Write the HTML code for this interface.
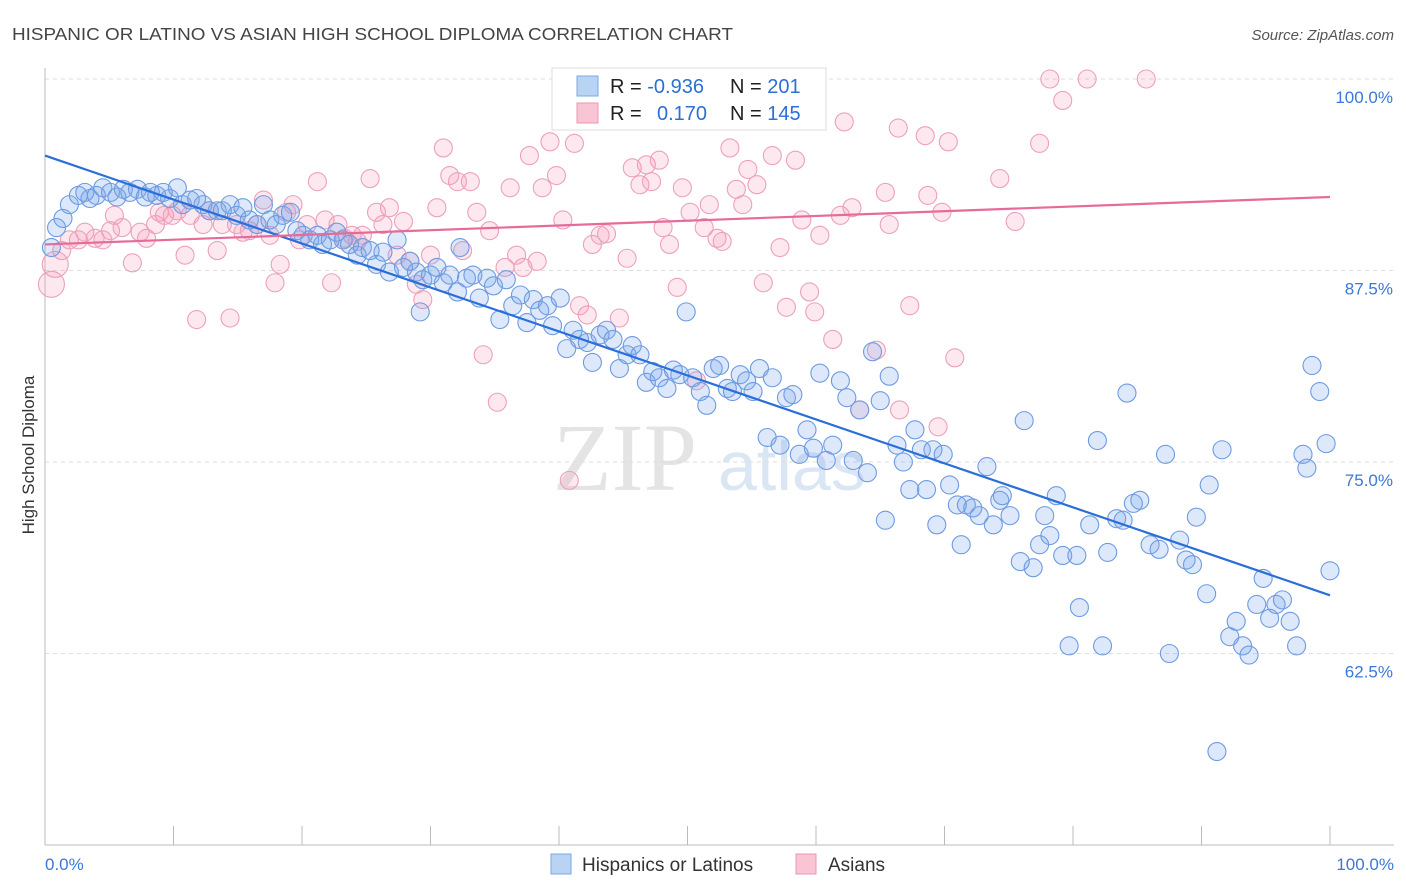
<!DOCTYPE html>
<html><head><meta charset="utf-8"><style>
body{margin:0;background:#fff;font-family:"Liberation Sans",sans-serif;}
svg{display:block}
</style></head><body>
<svg id="chart" width="1406" height="892" xmlns="http://www.w3.org/2000/svg">
<text x="12" y="40" font-size="17.5" fill="#444" textLength="721" lengthAdjust="spacingAndGlyphs">HISPANIC OR LATINO VS ASIAN HIGH SCHOOL DIPLOMA CORRELATION CHART</text>
<text x="1394" y="40" font-size="15" fill="#555" font-style="italic" text-anchor="end">Source: ZipAtlas.com</text>
<g>
<text x="553" y="490" font-size="96" font-family="Liberation Serif" fill="#e4e4e4">ZIP</text>
<text x="718" y="490" font-size="70" fill="#dbe6f5">atlas</text>
</g>
<g id="grid"></g><g id="axes"></g><g id="pink"></g><g id="blue"></g><g id="trend"></g>
<text transform="translate(34,455) rotate(-90)" font-size="17" fill="#333" text-anchor="middle">High School Diploma</text>
<g>
<rect x="552" y="68" width="274" height="62" fill="#fff" stroke="#ddd"/>
<rect x="577" y="76" width="21" height="20" fill="#b9d3f5" stroke="#7aa7e6"/>
<text x="610" y="93" font-size="20" fill="#222">R = <tspan fill="#2d6fd3">-0.936</tspan></text>
<text x="730" y="93" font-size="20" fill="#222">N = <tspan fill="#2d6fd3">201</tspan></text>
<rect x="577" y="103" width="21" height="20" fill="#f9c5d5" stroke="#ec97b3"/>
<text x="610" y="120" font-size="20" fill="#222">R = <tspan x="657" fill="#2d6fd3">0.170</tspan></text>
<text x="730" y="120" font-size="20" fill="#222">N = <tspan fill="#2d6fd3">145</tspan></text>
</g>
<g>
<rect x="551" y="854" width="20" height="20" fill="#b9d3f5" stroke="#7aa7e6"/>
<text x="582" y="871" font-size="19" fill="#333">Hispanics or Latinos</text>
<rect x="796" y="854" width="20" height="20" fill="#f9c5d5" stroke="#ec97b3"/>
<text x="828" y="871" font-size="19" fill="#333">Asians</text>
</g>
</svg>
<script>
const yTicks=[100,87.5,75,62.5];
const yTickLabels=["100.0%","87.5%","75.0%","62.5%"];
const xTickLabels=["0.0%","100.0%"];
const blueX=[.5,.9,1.4,1.9,2.6,3.1,3.5,4.0,4.5,5.1,5.6,6.1,6.6,7.2,7.8,8.2,8.7,9.2,9.7,10.3,10.7,11.3,11.8,12.3,12.8,13.4,13.8,14.4,14.9,15.4,15.9,16.5,17.0,17.5,18.0,18.5,19.1,19.6,20.1,20.6,21.2,21.6,22.2,22.7,23.2,23.7,24.3,24.7,25.3,25.8,26.3,26.8,27.4,27.9,28.4,28.9,29.2,29.4,30.0,30.5,31.0,31.5,32.1,32.3,32.8,33.3,33.8,34.4,34.9,35.4,35.9,36.4,37.0,37.5,38.0,38.5,39.1,39.5,40.1,40.6,41.1,41.6,42.2,42.6,43.2,43.7,44.2,44.7,45.3,45.7,46.3,46.8,47.3,47.8,48.4,48.9,49.4,49.9,50.4,51.0,51.5,52.0,52.5,53.1,53.5,54.1,54.6,55.1,55.6,56.2,56.6,57.2,57.7,58.2,58.7,59.3,59.8,60.3,60.8,61.3,61.9,62.4,62.9,63.4,64.0,64.4,65.0,65.4,65.7,66.3,66.8,67.3,67.7,68.2,68.6,69.1,69.4,69.9,70.4,71.0,71.3,71.7,72.2,72.7,73.3,73.8,74.3,74.5,75.1,75.9,76.2,76.9,77.4,77.8,78.2,78.7,79.2,79.7,80.3,80.5,81.3,81.9,82.3,82.7,83.4,83.9,84.2,84.7,85.2,86.0,86.7,87.2,87.5,88.3,88.8,89.3,89.6,90.4,90.6,91.2,91.6,92.2,92.7,93.2,93.7,94.3,94.8,95.3,95.8,96.3,96.9,97.4,97.9,98.2,98.6,99.2,99.7,100];
const blueY=[89.0,90.3,90.9,91.8,92.4,92.6,92.2,92.4,92.9,92.6,92.3,92.8,92.6,92.8,92.3,92.6,92.4,92.6,92.2,92.9,91.8,92.1,92.2,91.8,91.4,91.4,91.4,91.8,91.1,91.6,90.8,90.5,91.8,90.8,90.5,91.1,91.3,90.1,89.8,89.5,89.8,89.2,89.5,90.0,89.5,89.2,88.5,89.0,88.8,87.9,88.7,87.4,89.5,87.7,88.1,87.4,84.8,86.9,87.2,87.7,86.7,87.2,86.1,89.0,87.0,87.2,85.7,87.0,86.5,84.3,86.9,85.2,85.9,84.1,85.6,84.9,85.2,83.9,85.7,82.4,83.6,83.0,82.8,81.5,83.3,83.6,83.0,81.1,82.0,82.6,82.0,80.2,80.9,80.5,79.8,81.0,80.7,84.8,80.5,79.6,78.7,81.1,81.3,79.8,79.6,80.7,80.3,79.6,81.1,76.6,80.5,76.1,79.2,79.4,75.5,77.1,75.9,80.8,75.1,76.1,80.3,79.2,75.1,78.4,74.3,82.2,79.0,71.2,80.6,76.1,75.0,73.2,77.1,75.8,73.2,75.8,70.9,75.5,73.5,72.2,69.6,72.2,72.0,71.5,74.7,70.9,72.5,72.8,71.5,68.5,77.7,68.1,69.6,71.5,70.2,72.8,68.9,63.0,68.9,65.5,70.9,76.4,63.0,69.1,71.3,71.2,79.5,72.3,72.5,69.6,69.3,75.5,62.5,69.9,68.6,68.3,71.4,66.4,73.5,56.1,75.8,63.6,64.6,63.0,62.4,65.7,67.4,64.8,65.7,66.0,64.6,63.0,75.5,74.6,81.3,79.6,76.2,67.9];
const pinkX=[.5,.8,1.3,1.9,2.6,3.1,3.9,4.5,5.1,5.4,6.0,6.8,7.4,7.9,8.6,8.9,9.3,9.9,10.3,10.9,11.3,11.8,12.3,12.8,13.4,13.8,14.4,14.9,15.4,15.9,16.5,17.0,17.5,17.9,18.3,18.8,19.3,19.8,20.4,21.2,21.8,22.3,22.8,23.3,23.9,24.3,24.7,25.3,25.8,26.3,26.8,27.4,27.9,28.4,28.9,29.4,30.0,30.5,31.0,31.5,32.1,32.5,33.1,33.6,34.1,34.6,35.2,35.8,36.2,36.7,37.2,37.7,38.3,38.7,39.3,39.8,40.3,40.8,41.2,41.6,42.2,42.6,43.2,43.7,44.3,44.7,45.3,45.7,46.3,46.8,47.2,47.8,48.1,48.6,49.2,49.6,50.2,50.7,51.3,51.7,52.3,52.7,53.3,53.8,54.3,54.7,55.4,55.9,56.0,56.6,57.2,57.7,58.4,58.9,59.5,59.9,60.3,61.3,61.9,62.2,62.8,63.4,64.7,65.4,65.7,66.4,66.5,67.3,68.5,68.7,69.5,69.8,70.3,70.8,74.3,75.5,77.4,78.2,79.2,81.1,85.7];
const pinkY=[86.6,87.9,88.8,89.5,89.5,90.0,89.6,89.5,90.1,91.1,90.3,88.0,90.0,89.6,90.5,91.3,91.1,91.1,91.4,88.5,91.1,84.3,90.5,91.4,88.8,90.5,84.4,90.5,90.0,90.1,90.5,92.1,89.8,86.7,87.9,91.3,91.8,89.5,90.5,93.3,90.8,86.7,90.5,89.6,89.8,89.4,89.8,93.5,91.3,90.5,91.6,88.5,90.7,88.1,86.6,85.6,88.5,91.6,95.5,93.7,93.3,88.8,93.3,91.3,82.0,90.1,78.9,87.7,92.9,88.5,87.7,95.0,88.1,92.9,95.9,93.7,90.8,73.8,95.8,85.2,84.6,89.2,89.8,89.9,98.0,84.4,88.3,94.2,93.1,94.4,93.3,94.7,90.3,89.2,86.4,92.9,91.3,80.3,90.3,91.8,89.6,89.4,95.5,92.8,91.8,94.1,93.1,86.7,97.5,95.0,89.0,85.1,94.7,90.8,86.1,84.8,89.8,83.0,91.1,97.2,91.6,78.4,82.3,92.6,90.5,96.8,78.4,85.2,96.3,92.4,77.3,91.3,95.9,81.8,93.5,90.7,95.8,100,98.6,100,100];
const blueTrend=[95.0,66.3];
const pinkTrend=[89.2,92.3];
const NS="http://www.w3.org/2000/svg";
const X=v=>45+v*12.85;
const Y=v=>79+(100-v)*15.32;
function mk(tag,attrs,parent){const e=document.createElementNS(NS,tag);for(const k in attrs)e.setAttribute(k,attrs[k]);parent.appendChild(e);return e;}
const grid=document.getElementById('grid'),axes=document.getElementById('axes');
yTicks.forEach((t,i)=>{
 const l=mk('line',{x1:45,x2:1394,y1:Y(t),y2:Y(t),stroke:'#ddd','stroke-dasharray':'4,4'},grid);
 
 
 const tx=mk('text',{x:1393,y:Y(t)+24,'font-size':17,fill:'#3b78d8','text-anchor':'end'},axes);
 tx.textContent=yTickLabels[i];
 
 
});
const ax=mk('line',{x1:45,x2:45,y1:68,y2:845,stroke:'#bbb'},axes);


const bx=mk('line',{x1:45,x2:1394,y1:845,y2:845,stroke:'#bbb'},axes);


for(let i=0;i<=10;i++){const t=mk('line',{x1:X(i*10),x2:X(i*10),y1:826,y2:845,stroke:'#bbb'},axes);
 
 }
[[0,'start',45],[100,'end',1394]].forEach((d,i)=>{const t=mk('text',{x:d[2],y:870,'font-size':17,fill:'#3b78d8','text-anchor':d[1]},axes);t.textContent=xTickLabels[i];
 
 });
const pg=document.getElementById('pink');
pinkX.forEach((x,i)=>{const c=mk('circle',{cx:X(x),cy:Y(pinkY[i]),r:i<2?13:9,fill:'rgba(244,150,182,0.22)',stroke:'#eca0ba','stroke-width':1.1},pg);
 
 });
const bg=document.getElementById('blue');
blueX.forEach((x,i)=>{const c=mk('circle',{cx:X(x),cy:Y(blueY[i]),r:9,fill:'rgba(120,165,235,0.25)',stroke:'#6e9be0','stroke-width':1.1},bg);
 
 });
const tg=document.getElementById('trend');
const bt=mk('line',{x1:X(0),y1:Y(blueTrend[0]),x2:X(100),y2:Y(blueTrend[1]),stroke:'#2a6fd8','stroke-width':2.2},tg);


const pt=mk('line',{x1:X(0),y1:Y(pinkTrend[0]),x2:X(100),y2:Y(pinkTrend[1]),stroke:'#e66b9a','stroke-width':2.2},tg);


</script>
</body></html>
